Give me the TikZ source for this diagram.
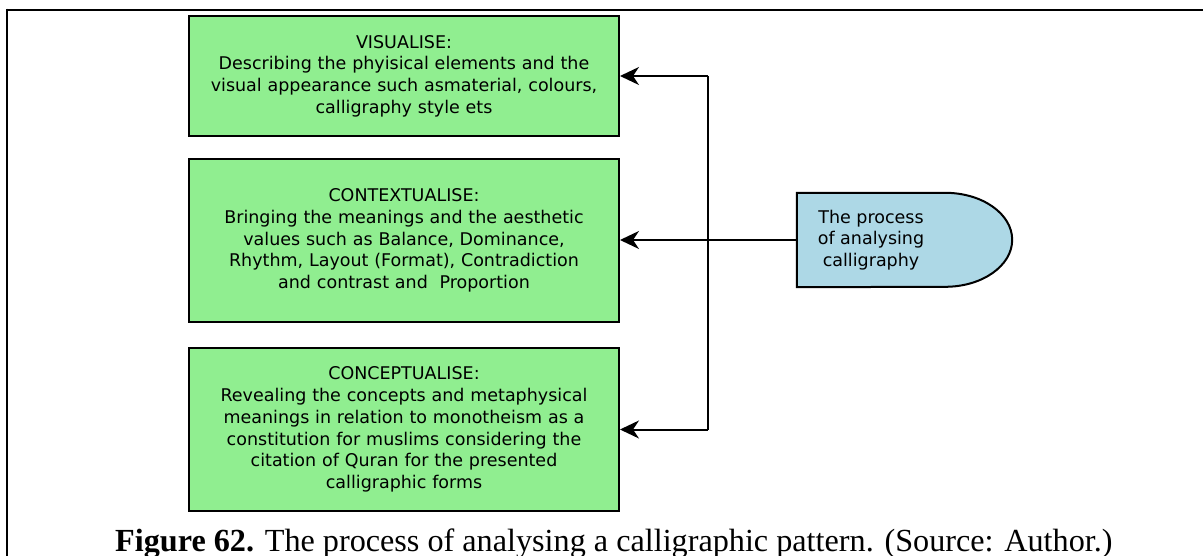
\documentclass[tikz,border=0pt]{standalone}
\usepackage{fontspec}
\setmainfont{Liberation Serif}
\newfontfamily\boxfont{DejaVu Sans}
\usetikzlibrary{arrows.meta,backgrounds}

\definecolor{stagegreen}{RGB}{144,238,144}
\definecolor{procblue}{RGB}{173,216,230}
\tikzset{
  stage/.style={draw=black, line width=2pt, fill=stagegreen,
    minimum width=430pt, text width=428pt, align=center, inner sep=0pt,
    font=\boxfont\fontsize{17.5}{21.7}\selectfont},
  procbox/.style={minimum width=148pt, minimum height=94pt, inner sep=0pt,
    align=center, font=\boxfont\fontsize{17.5}{21.7}\selectfont},
  link/.style={line width=2pt, draw=black},
  arr/.style={link, -{Stealth[length=19pt, width=18pt, inset=6pt]}},
}

\begin{document}
\begin{tikzpicture}[x=1pt, y=-1pt]
  \clip (0,0) rectangle (1203,556);
  \useasboundingbox (0,0) rectangle (1203,556);

  % page frame
  \draw[line width=2.7pt] (7.2,10) -- (178,10);
  \draw[line width=1.2pt] (178,10) -- (1038,10);
  \draw[line width=2.7pt] (1038,10) -- (1203,10);
  \draw[line width=2.3pt] (7.2,8.7) -- (7.2,556);

  % the three stages
  \node[stage, minimum height=120pt] (vis) at (404,76)
    {VISUALISE:\\Describing the phyisical elements and the\\visual appearance such asmaterial, colours,\\calligraphy style ets};
  \node[stage, minimum height=163pt] (ctx) at (404,240.5)
    {CONTEXTUALISE:\\Bringing the meanings and the aesthetic\\values such as Balance, Dominance,\\Rhythm, Layout (Format), Contradiction\\and contrast and\ \ Proportion};
  \node[stage, minimum height=163pt] (con) at (404,429.5)
    {CONCEPTUALISE:\\Revealing the concepts and metaphysical\\meanings in relation to monotheism as a\\constitution for muslims considering the\\citation of Quran for the presented\\calligraphic forms};

  % the process (delay-shaped box)
  \node[procbox] (proc) at (871,240) {The process\\of analysing\\calligraphy};
  \begin{scope}[on background layer]
    \draw[line width=2pt, fill=procblue]
      (proc.south west) -- (proc.north west) -- (proc.north east)
      arc[start angle=90, end angle=-90, x radius=67pt, y radius=47pt]
      -- cycle;
  \end{scope}

  % connectors
  \coordinate (jt) at (708,76);
  \coordinate (jb) at (708,429.5);
  \draw[link] (jt) -- (jb);
  \draw[arr] (jt) -- (vis.east);
  \draw[arr] (jb) -- (con.east);
  \draw[arr] (proc.west) -- (proc.west -| ctx.east);

  % caption
  \node[anchor=base west, inner sep=0pt, font=\fontsize{32.2}{34}\selectfont] (cap) at (115,551.5)
    {\textbf{Figure 62.} The process of analysing a calligraphic pattern. (Source: Author.)};
\end{tikzpicture}
\end{document}
